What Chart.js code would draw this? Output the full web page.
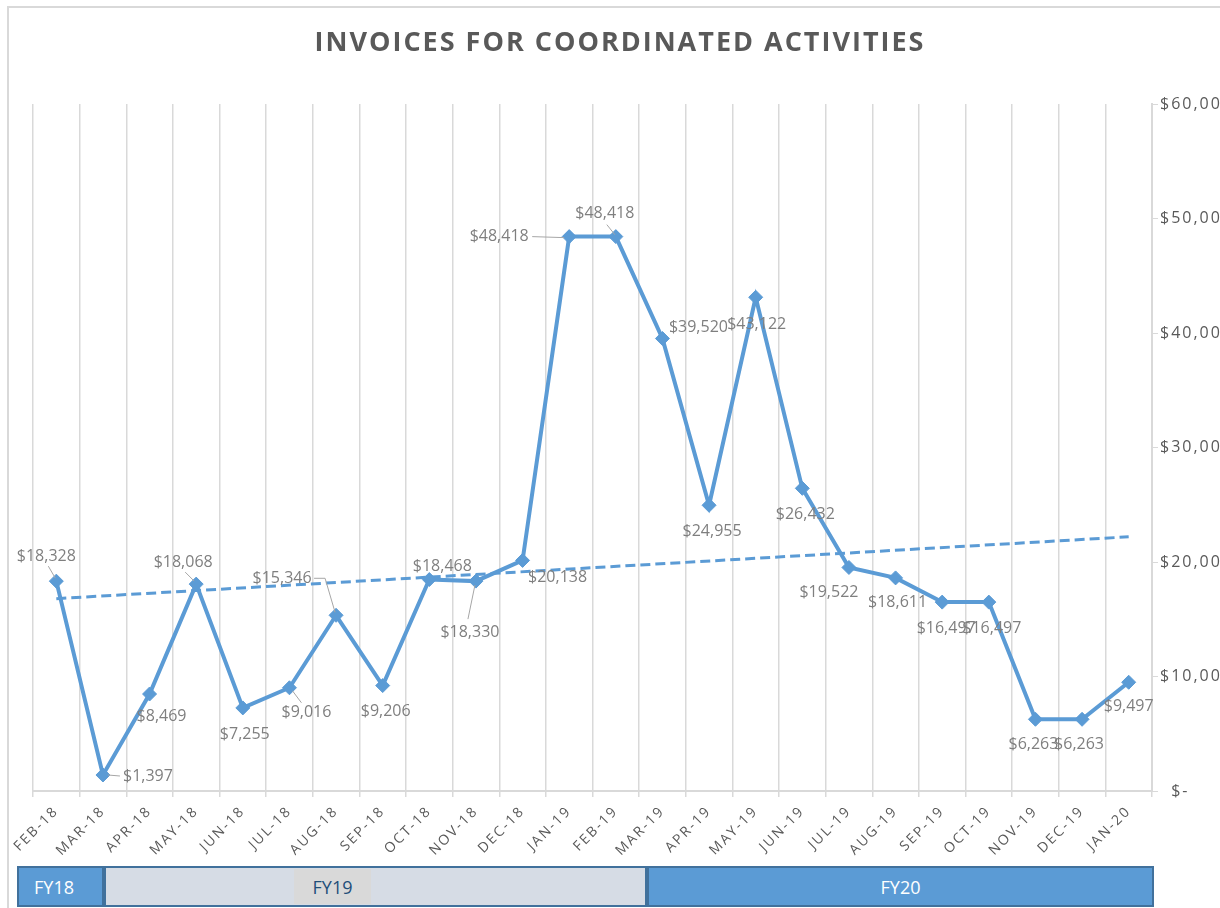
<!DOCTYPE html>
<html>
<head>
<meta charset="utf-8">
<script src="https://cdn.jsdelivr.net/npm/chart.js@4.4.1/dist/chart.umd.min.js"></script>
<style>
  html, body { margin: 0; padding: 0; background: #fff; overflow: hidden; }
  #wrap { position: relative; width: 1220px; height: 908px; overflow: hidden; }
  #frame { position: absolute; left: 7px; top: 6px; width: 1240px; height: 940px;
           border: 2px solid #d9d9d9; box-sizing: border-box; }
  #title { position: absolute; left: 10px; top: 27px; width: 1220px; text-align: center;
           font: bold 27px/27px "Open Sans"; letter-spacing: 2px; color: #595959; }
  canvas { position: absolute; left: 0; top: 0; }
  .fy { position: absolute; top: 866px; height: 41px; box-sizing: border-box;
        border: 2px solid #41719c; font: 18px "Open Sans"; }
  .fy span { position: absolute; top: 0; bottom: 0; display: flex; align-items: center; justify-content: center; }
</style>
</head>
<body>
<div id="wrap">
  <div id="frame"></div>
  <canvas id="invoiceChart" width="1220" height="862"></canvas>
  <div id="title">INVOICES FOR COORDINATED ACTIVITIES</div>
  <div class="fy" style="left:17px;width:87px;background:#5b9bd5;color:#fff;">
    <span style="left:0;width:70px;">FY18</span>
  </div>
  <div class="fy" style="left:104px;width:543px;background:#d6dce5;color:#1f4e79;">
    <span style="left:188px;width:77px;top:1px;bottom:1px;background:#d9d9d9;">FY19</span>
  </div>
  <div class="fy" style="left:647px;width:507px;background:#5b9bd5;color:#fff;">
    <span style="left:0;right:0;">FY20</span>
  </div>
</div>

<script>
// monthly invoice totals
const months = [
  "FEB-18", "MAR-18", "APR-18", "MAY-18", "JUN-18", "JUL-18", "AUG-18", "SEP-18",
  "OCT-18", "NOV-18", "DEC-18", "JAN-19", "FEB-19", "MAR-19", "APR-19", "MAY-19",
  "JUN-19", "JUL-19", "AUG-19", "SEP-19", "OCT-19", "NOV-19", "DEC-19", "JAN-20"
];
const invoices = [
  18328, 1397, 8469, 18068, 7255, 9016, 15346, 9206,
  18468, 18330, 20138, 48418, 48418, 39520, 24955, 43122,
  26432, 19522, 18611, 16497, 16497, 6263, 6263, 9497
];
// linear trendline, only the two ends
const trendline = [
  16800, null, null, null, null, null, null, null,
  null, null, null, null, null, null, null, null,
  null, null, null, null, null, null, null, 22200
];
const yTicks = [0, 10000, 20000, 30000, 40000, 50000, 60000];

// where each data label sits, relative to its point
const labelOffsets = [
  [-10, -25], [45, 1], [12, 22], [-13, -22], [2, 27], [17, 25], [-54, -37], [3, 26],
  [13, -13], [-6, 51], [35, 17], [-70, 0], [-11, -23], [36, -11], [3, 26], [1, 27],
  [3, 26], [-20, 25], [2, 25], [4, 26], [3, 26], [-2, 25], [-3, 25], [0, 24]
];
// leader lines from label to point
const leaders = {
  0: [[-8, -15], [-1, -3]],
  1: [[5, 0], [17, 1]],
  3: [[-11, -12], [-2, -3]],
  5: [[3, 3], [12, 15]],
  6: [[-22, -37], [-11, -37], [-1, -3]],
  9: [[-1, 4], [-8, 38]],
  11: [[-37, 0], [-5, 1]],
  12: [[-9, -12], [-1, -2]]
};

function money(v) {
  return "$" + v.toLocaleString("en-US");
}

const spacingPlugin = {
  id: "spacing",
  beforeDraw(chart) {
    chart.ctx.letterSpacing = "2px";
  },
  afterDraw(chart) {
    chart.ctx.letterSpacing = "0px";
  }
};

const labelPlugin = {
  id: "pointLabels",
  afterDatasetsDraw(chart) {
    const ctx = chart.ctx;
    const meta = chart.getDatasetMeta(0);
    ctx.save();
    ctx.letterSpacing = "0px";
    ctx.strokeStyle = "#a6a6a6";
    ctx.lineWidth = 1;
    meta.data.forEach((pt, i) => {
      const path = leaders[i];
      if (!path) return;
      ctx.beginPath();
      path.forEach(([dx, dy], k) => {
        if (k === 0) ctx.moveTo(pt.x + dx, pt.y + dy);
        else ctx.lineTo(pt.x + dx, pt.y + dy);
      });
      ctx.stroke();
    });
    ctx.font = '16px "Open Sans"';
    ctx.fillStyle = "#7f7f7f";
    ctx.textAlign = "center";
    ctx.textBaseline = "middle";
    meta.data.forEach((pt, i) => {
      const [dx, dy] = labelOffsets[i];
      ctx.fillText(money(invoices[i]), pt.x + dx, pt.y + dy);
    });
    ctx.restore();
  }
};

new Chart(document.getElementById("invoiceChart").getContext("2d"), {
  type: "line",
  data: {
    labels: months,
    datasets: [
      {
        label: "Invoices",
        data: invoices,
        borderColor: "#5b9bd5",
        backgroundColor: "#5b9bd5",
        borderWidth: 4,
        tension: 0,
        pointStyle: "rectRot",
        pointRadius: 7,
        pointBorderWidth: 1,
        pointBackgroundColor: "#5b9bd5",
        pointBorderColor: "#5b9bd5",
        clip: false
      },
      {
        label: "Trend",
        data: trendline,
        spanGaps: true,
        borderColor: "#5b9bd5",
        borderWidth: 3,
        borderDash: [10, 5],
        pointRadius: 0,
        tension: 0
      }
    ]
  },
  options: {
    responsive: false,
    animation: false,
    devicePixelRatio: 1,
    layout: { padding: { left: 33, top: 104, right: 0, bottom: 0 } },
    plugins: {
      legend: { display: false },
      tooltip: { enabled: false },
      title: { display: false }
    },
    scales: {
      x: {
        type: "category",
        offset: true,
        afterFit: (scale) => { scale.height = 71; },
        grid: {
          display: true,
          offset: true,
          color: "#d9d9d9",
          lineWidth: 1.5,
          drawTicks: true,
          tickLength: 6,
          tickColor: "#d9d9d9"
        },
        border: { display: true, color: "#d9d9d9", width: 2 },
        ticks: {
          autoSkip: false,
          minRotation: 45,
          maxRotation: 45,
          padding: 6,
          color: "#595959",
          font: { family: "Open Sans", size: 14 }
        }
      },
      y: {
        position: "right",
        min: 0,
        max: 60000,
        afterFit: (scale) => { scale.width = 68; },
        afterBuildTicks: (scale) => { scale.ticks = yTicks.map((v) => ({ value: v })); },
        grid: {
          display: true,
          drawOnChartArea: false,
          drawTicks: true,
          tickLength: 6,
          tickColor: "#d9d9d9"
        },
        border: { display: true, color: "#d9d9d9", width: 2 },
        ticks: {
          padding: 2,
          align: "center",
          crossAlign: "near",
          color: "#595959",
          font: { family: "Open Sans", size: 16 },
          callback: (v) => (v === 0 ? "\u2007$-" : money(v))
        }
      }
    }
  },
  plugins: [spacingPlugin, labelPlugin]
});
</script>
</body>
</html>
